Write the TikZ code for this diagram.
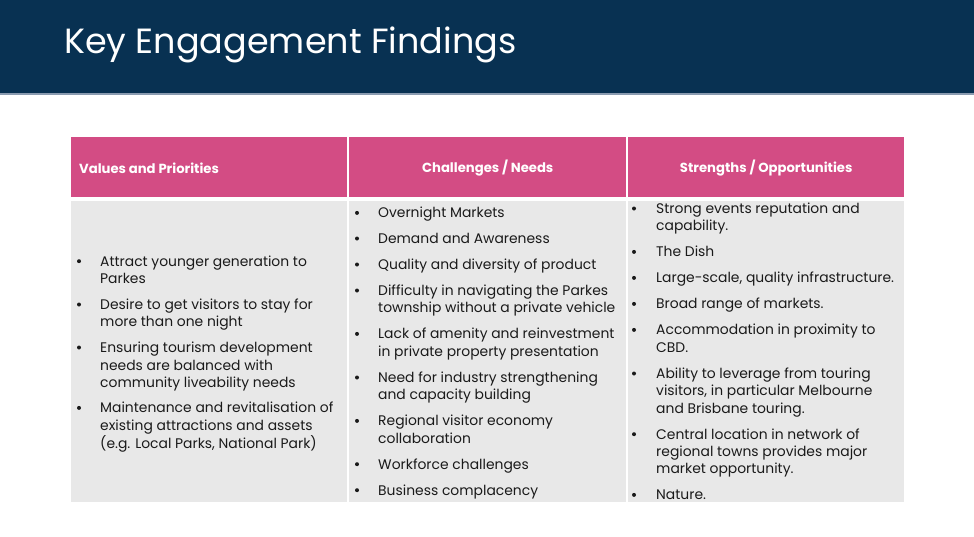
\documentclass[tikz,border=0pt]{standalone}
\usepackage{fontspec}
\setmainfont{Poppins}
\definecolor{navy}{HTML}{083152}
\definecolor{pinkc}{HTML}{D34C84}
\definecolor{cellgrey}{HTML}{E8E8E8}
\definecolor{rulec}{HTML}{8A9BB0}
\definecolor{txt}{HTML}{1A1A1A}
\tikzset{
  itemtext/.style={anchor=base west, inner sep=0pt, font=\fontsize{13.9}{16}\selectfont, text=txt},
  hdrtext/.style={font=\bfseries\fontsize{13.2}{15}\selectfont, text=white, inner sep=0pt},
  bulletdot/.style={circle, fill=txt, minimum size=4pt, inner sep=0pt},
  hcell/.style={fill=pinkc, anchor=north west, minimum height=60pt, inner sep=0pt},
  bcell/.style={fill=cellgrey, anchor=north west, minimum height=301pt, inner sep=0pt}
}
\begin{document}
\begin{tikzpicture}[x=1pt,y=-1pt]
\useasboundingbox (0,0) rectangle (974,536);
\fill[white] (0,0) rectangle (974,536);
% title band
\fill[navy] (0,0) rectangle (974,93);
\draw[rulec, line width=1.5pt] (0,94.2) -- (974,94.2);
\node[anchor=base west, text=white, font=\fontsize{35}{40}\selectfont, inner sep=0pt] (title) at (64,53) {Key Engagement Findings};
% cells
\node[hcell, minimum width=276pt] (h1) at (71,137) {};
\node[hcell, minimum width=277pt] (h2) at (349,137) {};
\node[hcell, minimum width=276pt] (h3) at (628,137) {};
\node[bcell, minimum width=276pt] (c1) at (71,201) {};
\node[bcell, minimum width=277pt] (c2) at (349,201) {};
\node[bcell, minimum width=276pt] (c3) at (628,201) {};
% header labels
\node[hdrtext, anchor=west] (ht1) at (79,168) {Values and Priorities};
\node[hdrtext] (ht2) at ([yshift=-1pt]h2.center) {Challenges / Needs};
\node[hdrtext] (ht3) at ([yshift=-1pt]h3.center) {Strengths / Opportunities};
% column 1
\foreach \yy/\hasb/\txt [count=\i] in {
  266/1/{Attract younger generation to},
  283.3/0/{Parkes},
  309.3/1/{Desire to get visitors to stay for},
  326.7/0/{more than one night},
  352.3/1/{Ensuring tourism development},
  370/0/{needs are balanced with},
  387.3/0/{community liveability needs},
  412.7/1/{Maintenance and revitalisation of},
  430/0/{existing attractions and assets},
  448.3/0/{(e.g. Local Parks, National Park)}}{
  \node[itemtext] (a\i) at (100,\yy) {\txt};
  \ifnum\hasb=1 \node[bulletdot] (ab\i) at (79,{\yy-4.8}) {}; \fi
}
% column 2
\foreach \yy/\hasb/\txt [count=\i] in {
  217.7/1/{Overnight Markets},
  243.3/1/{Demand and Awareness},
  269.3/1/{Quality and diversity of product},
  295.3/1/{Difficulty in navigating the Parkes},
  312.7/0/{township without a private vehicle},
  338.7/1/{Lack of amenity and reinvestment},
  356/0/{in private property presentation},
  382.3/1/{Need for industry strengthening},
  399.7/0/{and capacity building},
  425.7/1/{Regional visitor economy},
  443/0/{collaboration},
  469/1/{Workforce challenges},
  495/1/{Business complacency}}{
  \node[itemtext] (b\i) at (378,\yy) {\txt};
  \ifnum\hasb=1 \node[bulletdot] (bb\i) at (357,{\yy-4.8}) {}; \fi
}
% column 3
\foreach \yy/\hasb/\txt [count=\i] in {
  213.3/1/{Strong events reputation and},
  230.7/0/{capability.},
  256.7/1/{The Dish},
  282.7/1/{Large-scale, quality infrastructure.},
  308.7/1/{Broad range of markets.},
  334.7/1/{Accommodation in proximity to},
  352/0/{CBD.},
  378.3/1/{Ability to leverage from touring},
  395.7/0/{visitors, in particular Melbourne},
  413/0/{and Brisbane touring.},
  439/1/{Central location in network of},
  456.3/0/{regional towns provides major},
  473.7/0/{market opportunity.},
  499.7/1/{Nature.}}{
  \node[itemtext] (d\i) at (656,\yy) {\txt};
  \ifnum\hasb=1 \node[bulletdot] (db\i) at (634,{\yy-4.8}) {}; \fi
}
\end{tikzpicture}
\end{document}
